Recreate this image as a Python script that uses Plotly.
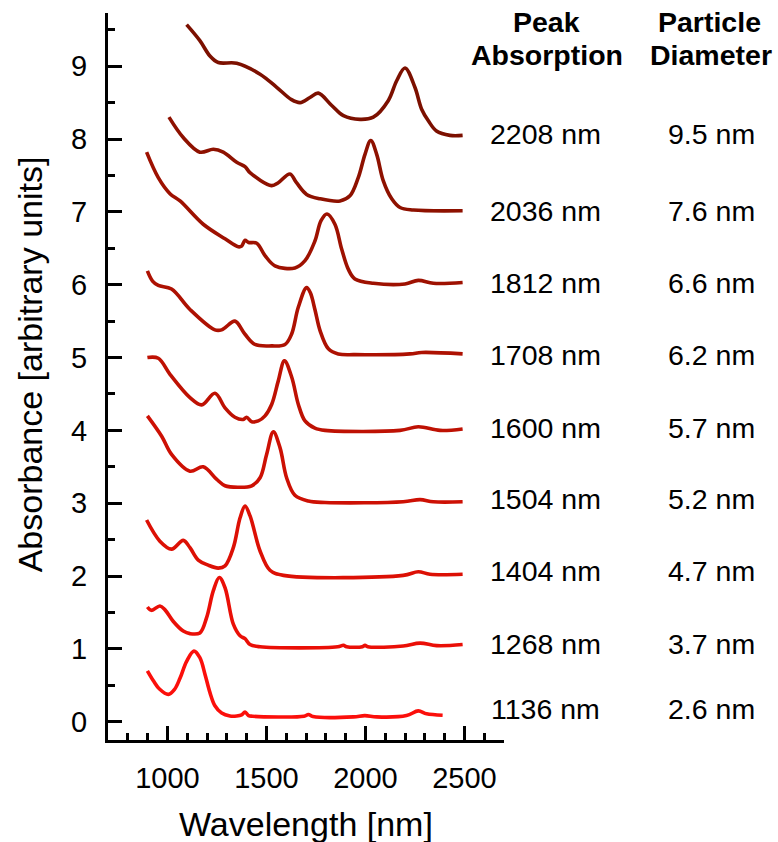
import plotly.graph_objects as go

# ---------------- data ----------------
peak_labels = ["1136 nm", "1268 nm", "1404 nm", "1504 nm", "1600 nm",
               "1708 nm", "1812 nm", "2036 nm", "2208 nm"]
diameter_labels = ["2.6 nm", "3.7 nm", "4.7 nm", "5.2 nm", "5.7 nm",
                   "6.2 nm", "6.6 nm", "7.6 nm", "9.5 nm"]

wl_1136 = [899, 930, 960, 1005, 1035, 1064, 1097, 1134, 1164, 1190, 1215, 1240, 1274, 1316,
           1350, 1375, 1392, 1410, 1430, 1690, 1712, 1735, 1940, 1997, 2057, 2208, 2267, 2309, 2390]
ab_1136 = [0.70, 0.56, 0.45, 0.376, 0.44, 0.60, 0.83, 0.97, 0.88, 0.65, 0.40, 0.22, 0.12, 0.08,
           0.08, 0.095, 0.135, 0.085, 0.076, 0.076, 0.10, 0.072, 0.067, 0.085, 0.067, 0.085, 0.15, 0.11, 0.09]

wl_1268 = [899, 920, 962, 987, 1029, 1080, 1114, 1164, 1198, 1232, 1262, 1291, 1333, 1367, 1392,
           1417, 1468, 1860, 1889, 1905, 1985, 1998, 2012, 2191, 2276, 2360, 2491]
ab_1268 = [1.576, 1.53, 1.59, 1.54, 1.38, 1.245, 1.21, 1.22, 1.43, 1.80, 1.98, 1.84, 1.34, 1.18, 1.14,
           1.06, 1.03, 1.03, 1.05, 1.03, 1.03, 1.05, 1.03, 1.04, 1.08, 1.045, 1.06]

wl_1404 = [895, 962, 1021, 1080, 1114, 1156, 1206, 1257, 1291, 1333, 1367, 1392, 1417, 1468, 1518,
           1586, 2191, 2267, 2326, 2491]
ab_1404 = [2.77, 2.48, 2.37, 2.49, 2.39, 2.22, 2.15, 2.11, 2.14, 2.39, 2.80, 2.96, 2.83, 2.345, 2.08,
           2.01, 2.01, 2.06, 2.025, 2.025]

wl_1504 = [899, 971, 1021, 1114, 1181, 1248, 1291, 1358, 1426, 1468, 1501, 1535, 1569, 1602, 1644,
           1712, 1796, 2191, 2276, 2343, 2491]
ab_1504 = [4.20, 3.92, 3.67, 3.44, 3.50, 3.33, 3.24, 3.22, 3.24, 3.35, 3.67, 3.98, 3.76, 3.35, 3.11,
           3.03, 3.01, 3.02, 3.05, 3.02, 3.02]

wl_1600 = [899, 954, 1013, 1114, 1173, 1240, 1291, 1341, 1383, 1400, 1426, 1459, 1493, 1527, 1560,
           1591, 1628, 1661, 1695, 1745, 1796, 2175, 2267, 2377, 2491]
ab_1600 = [5.00, 4.99, 4.77, 4.45, 4.35, 4.51, 4.31, 4.18, 4.15, 4.18, 4.12, 4.13, 4.20, 4.36, 4.68,
           4.955, 4.73, 4.36, 4.13, 4.03, 4.00, 4.00, 4.05, 4.00, 4.02]

wl_1708 = [899, 925, 954, 1021, 1114, 1240, 1274, 1291, 1341, 1392, 1442, 1527, 1594, 1627, 1661,
           1703, 1722, 1745, 1771, 1813, 1863, 1947, 2225, 2284, 2491]
ab_1708 = [6.19, 6.05, 5.99, 5.94, 5.66, 5.38, 5.38, 5.41, 5.50, 5.32, 5.18, 5.16, 5.18, 5.32, 5.69,
           5.96, 5.89, 5.66, 5.37, 5.12, 5.05, 5.04, 5.05, 5.07, 5.05]

wl_1812 = [895, 954, 1013, 1064, 1181, 1291, 1358, 1375, 1392, 1410, 1451, 1493, 1543, 1644, 1695,
           1745, 1776, 1806, 1846, 1880, 1914, 1947, 2040, 2200, 2267, 2343, 2491]
ab_1812 = [7.82, 7.47, 7.25, 7.15, 6.83, 6.63, 6.52, 6.53, 6.61, 6.58, 6.57, 6.40, 6.26, 6.23, 6.33,
           6.60, 6.88, 6.97, 6.83, 6.49, 6.21, 6.08, 6.02, 6.01, 6.06, 6.02, 6.03]

wl_2036 = [1008, 1080, 1164, 1232, 1282, 1350, 1392, 1417, 1526, 1560, 1619, 1652, 1703, 1771, 1872,
           1922, 1964, 1998, 2027, 2057, 2090, 2133, 2175, 2242, 2491]
ab_2036 = [8.30, 8.02, 7.82, 7.86, 7.82, 7.68, 7.62, 7.54, 7.36, 7.40, 7.52, 7.40, 7.24, 7.18, 7.15,
           7.22, 7.47, 7.79, 7.98, 7.79, 7.43, 7.18, 7.06, 7.025, 7.015]

wl_2208 = [1097, 1164, 1215, 1257, 1350, 1468, 1552, 1627, 1670, 1720, 1762, 1830, 1889, 1973, 2040,
           2116, 2158, 2200, 2250, 2284, 2318, 2359, 2427, 2491]
ab_2208 = [9.57, 9.35, 9.14, 9.05, 9.04, 8.89, 8.71, 8.54, 8.50, 8.57, 8.63, 8.46, 8.32, 8.27, 8.30,
           8.53, 8.80, 8.975, 8.71, 8.41, 8.25, 8.11, 8.05, 8.05]

# ---------------- styling ----------------
colors = ["#fb0f0b", "#ea0f07", "#dc1005", "#cd1004", "#be1103",
          "#ad1102", "#9e1101", "#8e1100", "#7c1000"]
label_y = [0.17, 1.07, 2.07, 3.06, 4.03, 5.04, 6.03, 7.015, 8.07]

series = [(wl_1136, ab_1136), (wl_1268, ab_1268), (wl_1404, ab_1404), (wl_1504, ab_1504),
          (wl_1600, ab_1600), (wl_1708, ab_1708), (wl_1812, ab_1812), (wl_2036, ab_2036),
          (wl_2208, ab_2208)]

FONT = "Arial, Liberation Sans, sans-serif"

fig = go.Figure()
for (wl, ab), c, name in zip(series, colors, peak_labels):
    fig.add_trace(go.Scatter(x=wl, y=ab, mode="lines", name=name,
                             line=dict(color=c, width=3.6, shape="spline", smoothing=1.0),
                             showlegend=False, hoverinfo="skip"))

annotations = []
for yv, pk, dm in zip(label_y, peak_labels, diameter_labels):
    annotations.append(dict(x=1.106, y=yv, xref="paper", yref="y", text=pk, showarrow=False,
                            xanchor="center", yanchor="middle",
                            font=dict(family=FONT, size=28.5, color="black")))
    annotations.append(dict(x=1.523, y=yv, xref="paper", yref="y", text=dm, showarrow=False,
                            xanchor="center", yanchor="middle",
                            font=dict(family=FONT, size=28.5, color="black")))

for txt, xx, yy in [("<b>Peak</b>", 1.108, 0.9876), ("<b>Absorption</b>", 1.108, 0.9418),
                    ("<b>Particle</b>", 1.519, 0.9876), ("<b>Diameter</b>", 1.523, 0.9418)]:
    annotations.append(dict(x=xx, y=yy, xref="paper", yref="paper", text=txt, showarrow=False,
                            xanchor="center", yanchor="middle",
                            font=dict(family=FONT, size=28.5, color="black")))

annotations.append(dict(x=0.5, y=-0.1149, xref="paper", yref="paper", text="Wavelength [nm]",
                        showarrow=False, xanchor="center", yanchor="middle",
                        font=dict(family=FONT, size=34, color="black")))
annotations.append(dict(x=-0.197, y=0.5167, xref="paper", yref="paper",
                        text="Absorbance [arbitrary units]", textangle=-90,
                        showarrow=False, xanchor="center", yanchor="middle",
                        font=dict(family=FONT, size=34, color="black")))

axis_common = dict(showline=True, linewidth=3, linecolor="black", ticks="inside", ticklen=14,
                   tickwidth=3, tickcolor="black", showgrid=False, zeroline=False,
                   tickfont=dict(family=FONT, size=29, color="black"))

fig.update_layout(
    width=778, height=842,
    margin=dict(l=108, r=274, t=13, b=102),
    paper_bgcolor="white", plot_bgcolor="white",
    annotations=annotations,
    xaxis=dict(range=[700, 2700], tick0=0, dtick=500, ticklabelstandoff=10,
               minor=dict(ticks="inside", ticklen=7, tickwidth=3, tickcolor="black",
                          dtick=100, tick0=0, showgrid=False),
               **axis_common),
    yaxis=dict(range=[-0.25, 9.73], tick0=0, dtick=1, ticklabelstandoff=12,
               minor=dict(ticks="inside", ticklen=7, tickwidth=3, tickcolor="black",
                          dtick=0.5, tick0=0, showgrid=False),
               **axis_common),
)

fig.write_html("out.html", config={"displayModeBar": False},
               post_script="document.body.style.margin='0';document.body.style.overflow='hidden';")
